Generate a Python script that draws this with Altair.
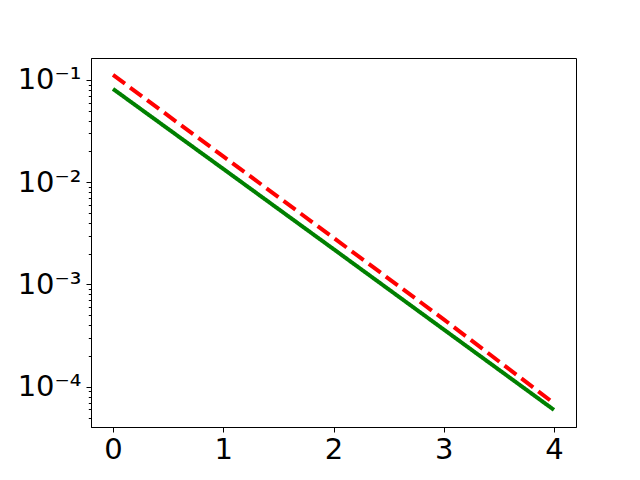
import altair as alt
import pandas as pd

x_vals = [0, 1, 2, 3, 4]
green_vals = [0.0817, 0.0135, 0.00222, 0.000363, 0.0000594]
red_vals = [0.112, 0.0179, 0.00286, 0.000456, 0.000069]

series_names = ["green", "red"]
series_colors = ["#008000", "#ff0000"]
series_dash = [[1, 0], [14.8, 6.4]]

major_y = [1e-4, 1e-3, 1e-2, 1e-1]
minor_y = [m * 10.0 ** e for e in [-5, -4, -3, -2] for m in range(2, 10)]
minor_y = [v for v in minor_y if 4.05e-5 < v < 0.164]
x_ticks = [0, 1, 2, 3, 4]

rows = []
for xv, g, r in zip(x_vals, green_vals, red_vals):
    rows.append({"x": xv, "y": g, "s": "green"})
    rows.append({"x": xv, "y": r, "s": "red"})
df = pd.DataFrame(rows)

xscale = alt.Scale(domain=[-0.2, 4.2], nice=False, zero=False)
yscale = alt.Scale(type="log", domain=[4.04e-5, 0.164], nice=False)

label_expr = (
    "'10' + (round(log(datum.value)/LN10) == -1 ? '⁻¹' : "
    "round(log(datum.value)/LN10) == -2 ? '⁻²' : "
    "round(log(datum.value)/LN10) == -3 ? '⁻³' : '⁻⁴')"
)

base = alt.Chart(df)

lines = base.mark_line(strokeWidth=4, clip=True).encode(
    x=alt.X("x:Q", scale=xscale,
            axis=alt.Axis(values=x_ticks, title=None, grid=False, labelFontSize=29,
                          tickSize=5, labelPadding=3, format="d")),
    y=alt.Y("y:Q", scale=yscale,
            axis=alt.Axis(values=major_y, title=None, grid=False, labelFontSize=29,
                          tickSize=5, labelPadding=5, labelExpr=label_expr,
                          orient="left")),
    color=alt.Color("s:N", scale=alt.Scale(domain=series_names, range=series_colors), legend=None),
    strokeDash=alt.StrokeDash("s:N", scale=alt.Scale(domain=series_names, range=series_dash), legend=None),
)

minor = base.mark_line(opacity=0).encode(
    x=alt.X("x:Q", scale=xscale),
    y=alt.Y("y:Q", scale=yscale,
            axis=alt.Axis(values=minor_y, title=None, grid=False, labels=False,
                          tickSize=2.7, domain=False, orient="left")),
    detail="s:N",
)

chart = alt.layer(lines, minor).resolve_axis(y="independent").properties(
    width=485, height=369,
    padding={"left": 83, "top": 50, "right": 40, "bottom": 50},
    autosize=alt.AutoSizeParams(type="none"),
    background="white",
).configure_view(stroke="black", strokeWidth=1).configure_axis(
    domainColor="black", tickColor="black", labelColor="black",
    labelFont="DejaVu Sans", domainWidth=1, tickWidth=1,
)

chart.save("out.html", embed_options={"renderer": "svg", "actions": False})
